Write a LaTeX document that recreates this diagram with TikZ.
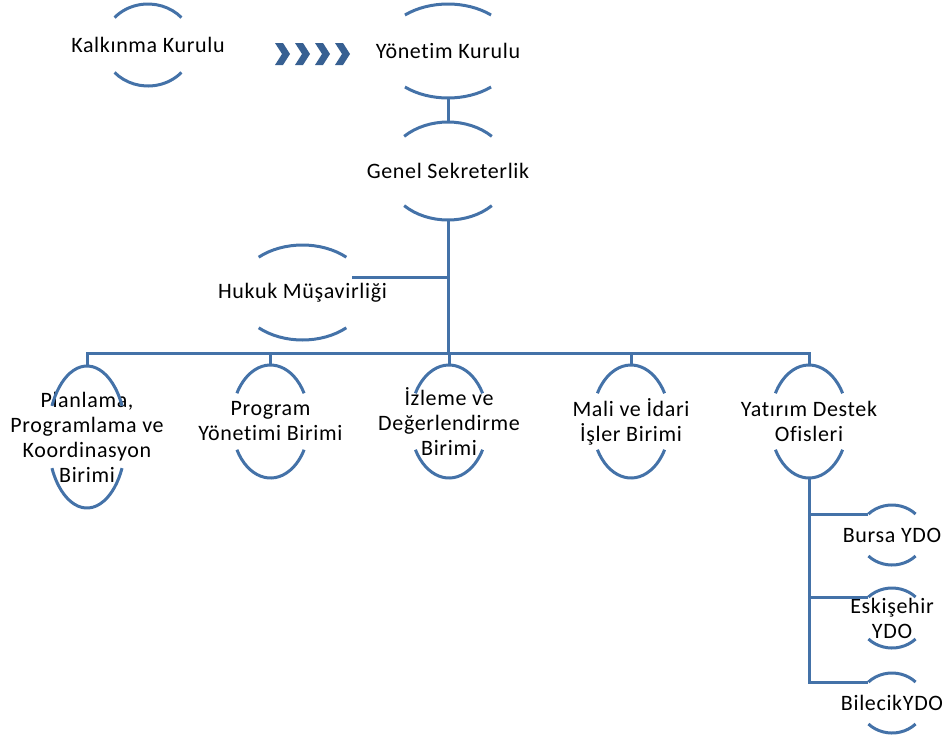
\documentclass[tikz,border=0pt]{standalone}
\usepackage{fontspec}
\setmainfont{Carlito}[LetterSpace=3,Ligatures={NoCommon}]
\usetikzlibrary{calc,shapes.geometric}
\definecolor{lncol}{RGB}{68,114,168}
\definecolor{chevcol}{RGB}{55,96,146}
\tikzset{
  conn/.style={draw=lncol,line width=3pt},
  txt/.style={font=\fontsize{22}{25}\selectfont,align=center,text=black,inner sep=0pt},
  chevron/.style={fill=chevcol,draw=none}
}
\newcommand\brarcs[4]{%
  \draw[conn] ($(#1.center)+({#2*cos(#4)},{#3*sin(#4)})$) arc[start angle=#4,end angle=180-#4,x radius=#2pt,y radius=#3pt];
  \draw[conn] ($(#1.center)+({-#2*cos(#4)},{-#3*sin(#4)})$) arc[start angle=180+#4,end angle=360-#4,x radius=#2pt,y radius=#3pt];}
\newcommand\bnode[7]{%
  \node[ellipse,inner sep=0pt,minimum width={2*#4pt},minimum height={2*#5pt}] (#1) at (#2,#3) {};
  \node[txt] (#1-t) at (#1.center) {#7};
  \brarcs{#1}{#4}{#5}{#6}}
\begin{document}
\begin{tikzpicture}[x=1pt,y=1pt]
\useasboundingbox (0,0) rectangle (949,-742);
\bnode{kal}{148}{-45}{45}{41}{42}{Kalkınma Kurulu}
\bnode{yon}{448}{-51}{67}{47}{50}{Yönetim Kurulu}
\bnode{gen}{448}{-171}{62}{49}{45}{Genel Sekreterlik}
\bnode{huk}{302.5}{-292.5}{65.5}{47.5}{48}{Hukuk Müşavirliği}
\bnode{pla}{87}{-437}{39}{71}{26}{Planlama,\\Programlama ve\\Koordinasyon\\Birimi}
\bnode{pro}{270.5}{-421.5}{38.8}{56.5}{30}{Program\\Yönetimi Birimi}
\bnode{izl}{449}{-421.5}{38.8}{56.5}{30}{İzleme ve\\Değerlendirme\\Birimi}
\bnode{mal}{631}{-421.5}{38.8}{56.5}{30}{Mali ve İdari\\İşler Birimi}
\bnode{yat}{809}{-421.5}{38.8}{56.5}{30}{Yatırım Destek\\Ofisleri}
\bnode{bur}{892}{-535}{33}{30}{44.4}{Bursa YDO}
\bnode{esk}{892}{-618}{33}{30}{44.4}{Eskişehir\\YDO}
\bnode{bil}{892}{-703}{33}{30}{44.4}{BilecikYDO}
% chevrons
\foreach \i in {0,1,2,3}{
  \fill[chevron] ({275+20*\i},-43) -- ++(8,0) -- ++(7,-11) -- ++(-7,-11) -- ++(-8,0) -- ++(7,11) -- cycle;
}
% connectors
\draw[conn] (yon.south) -- (gen.north);
\coordinate (bus) at (448,-353);
\draw[conn] (gen.south) -- (bus);
\coordinate (hukr) at ($(huk.center)+(49.5,15.5)$);
\draw[conn] (hukr) -- (hukr -| gen.south);
\draw[conn] (pla.north) |- (bus) -| (yat.north);
\draw[conn] (pro.north) -- (pro.north |- bus);
\draw[conn] (izl.north) -- (izl.north |- bus);
\draw[conn] (mal.north) -- (mal.north |- bus);
\coordinate (bur-e) at ($(bur.center)+({-33*cos(44.4)},{30*sin(44.4)})$);
\coordinate (esk-e) at ($(esk.center)+({-33*cos(44.4)},{30*sin(44.4)})$);
\coordinate (bil-e) at ($(bil.center)+({-33*cos(44.4)},{30*sin(44.4)})$);
\draw[conn] (yat.south) |- (bil-e);
\draw[conn] (bur-e) -- (bur-e -| yat.south);
\draw[conn] (esk-e) -- (esk-e -| yat.south);
\end{tikzpicture}
\end{document}
